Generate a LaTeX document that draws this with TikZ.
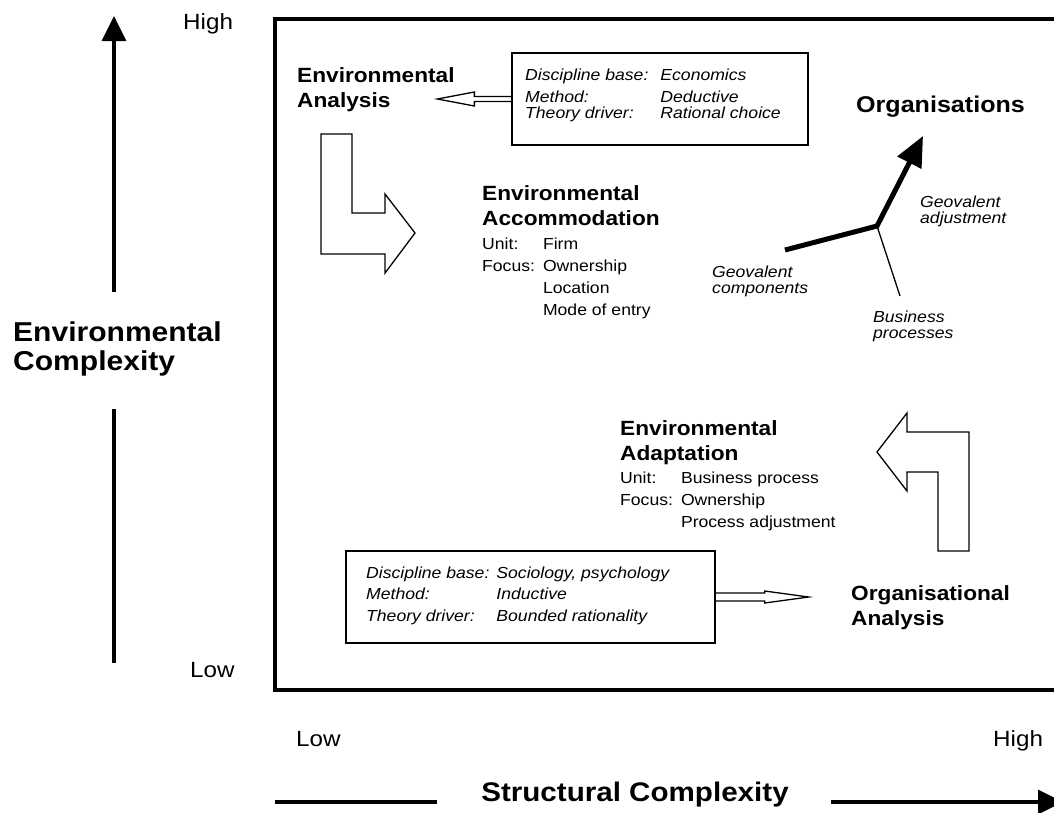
\documentclass[tikz,border=0pt]{standalone}
\usepackage{fontspec}
\setmainfont{Liberation Sans}[FakeStretch=1.1]
\usetikzlibrary{arrows.meta}

\newcommand{\linestack}[1]{\begin{tabular}[t]{@{}l@{}}#1\end{tabular}}

\tikzset{
  heading/.style={font=\fontsize{20.6}{25.5}\selectfont\bfseries, anchor=base west, inner sep=0pt},
  bodytext/.style={font=\fontsize{16}{22}\selectfont, anchor=base west, inner sep=0pt},
  boxtext/.style={font=\itshape, anchor=base west, inner sep=0pt},
  smalllabel/.style={font=\fontsize{16}{16}\selectfont\itshape, anchor=base west, inner sep=0pt},
  axistext/.style={font=\fontsize{22}{26}\selectfont, anchor=base west, inner sep=0pt},
  infobox/.style={draw, line width=1.3pt, inner sep=0pt},
  hollow/.style={draw, line width=1.3pt, line join=miter},
  axis/.style={line width=3.3pt},
}

\begin{document}
\begin{tikzpicture}[x=1pt, y=-1pt]
\useasboundingbox (0,0) rectangle (1054,812);
\clip (0,0) rectangle (1054,812);

% Outer frame
\draw[axis] (275,19) rectangle (1090,690);

% Vertical axis
\coordinate (ybot) at (114,663);
\coordinate (ygapl) at (114,409);
\coordinate (ygapu) at (114,292);
\coordinate (ytop) at (114,16);
\draw[axis] (ybot) -- (ygapl);
\draw[axis, -{Triangle[length=25pt,width=24pt]}] (ygapu) -- (ytop);
\node[axistext] (yhigh) at (183,29) {High};
\node[axistext] (ylow) at (190,677) {Low};
\node[font=\fontsize{27.3}{29}\selectfont\bfseries, anchor=base west, inner sep=0pt] (ylabel) at (13,341) {\linestack{Environmental\\Complexity}};

% Horizontal axis
\coordinate (xleft) at (275,802);
\coordinate (xgapl) at (437,802);
\coordinate (xgapr) at (831,802);
\coordinate (xright) at (1063,802);
\draw[axis] (xleft) -- (xgapl);
\draw[axis, -{Triangle[length=25pt,width=24pt]}] (xgapr) -- (xright);
\node[axistext] (xlow) at (296,746) {Low};
\node[axistext] (xhigh) at (993,746) {High};
\node[font=\fontsize{26.9}{30}\selectfont\bfseries, anchor=base, inner sep=0pt] (xlabel) at (635,801) {Structural Complexity};

% Economics box
\node[infobox, minimum width=296pt, minimum height=92pt] (econbox) at (660,99) {};
\node[boxtext] (econtext) at (525,80) {\fontsize{16}{22}\selectfont
  \begin{tabular}[t]{@{}l@{\hspace{12pt}}l@{}}
  Discipline base: & Economics\\
  Method: & Deductive\\[-6pt]
  Theory driver: & Rational choice
  \end{tabular}};
\draw[hollow] (econbox.west) ++(0,-2.5) -- ++(-37,0) -- ++(0,-4.5) -- ++(-37,7) -- ++(37,7) -- ++(0,-4.5) -- ++(37,0);

\node[heading] (envanalysis) at (297,82) {\linestack{Environmental\\Analysis}};

% Down and right arrow
\draw[hollow] (321,134) -- (352,134) -- (352,213) -- (385,213) -- (385,194) -- (415,233) -- (385,273) -- (385,254) -- (321,254) -- cycle;

\node[heading] (accomhead) at (482,200) {\linestack{Environmental\\Accommodation}};
\node[bodytext] (accombody) at (482,249) {%
  \begin{tabular}[t]{@{}l@{\hspace{8pt}}l@{}}
  Unit: & Firm\\
  Focus: & Ownership\\
  & Location\\
  & Mode of entry
  \end{tabular}};

% Organisations
\node[font=\fontsize{22.8}{26}\selectfont\bfseries, anchor=base west, inner sep=0pt] (orgs) at (856,112) {Organisations};
\coordinate (gjunc) at (877,226);
\coordinate (gcomp) at (785,250);
\coordinate (gtip) at (923,136);
\coordinate (gproc) at (900,296);
\draw[line width=5pt, -{Triangle[length=30pt,width=26pt]}] (gcomp) -- (gjunc) -- (gtip);
\draw[line width=1.3pt] (gjunc) -- (gproc);
\node[smalllabel] (gadjust) at (920,207) {\linestack{Geovalent\\adjustment}};
\node[smalllabel] (gcomplabel) at (712,277) {\linestack{Geovalent\\components}};
\node[smalllabel] (gproclabel) at (873,322) {\linestack{Business\\processes}};

% Adaptation
\node[heading] (adapthead) at (620,435) {\linestack{Environmental\\Adaptation}};
\node[bodytext] (adaptbody) at (620,483) {%
  \begin{tabular}[t]{@{}l@{\hspace{8pt}}l@{}}
  Unit: & Business process\\
  Focus: & Ownership\\
  & Process adjustment
  \end{tabular}};

% Up and left arrow
\draw[hollow] (969,551) -- (938,551) -- (938,472) -- (907,472) -- (907,491) -- (877,452) -- (907,413) -- (907,432) -- (969,432) -- cycle;

% Sociology box
\node[infobox, minimum width=369pt, minimum height=92pt] (sociobox) at (530.5,597) {};
\node[boxtext] (sociotext) at (366,578) {\fontsize{16}{21.5}\selectfont
  \begin{tabular}[t]{@{}l@{\hspace{7pt}}l@{}}
  Discipline base: & Sociology, psychology\\
  Method: & Inductive\\
  Theory driver: & Bounded rationality
  \end{tabular}};
\draw[hollow] (sociobox.east) ++(0,-4) -- ++(49,0) -- ++(0,-2) -- ++(44,6) -- ++(-44,6) -- ++(0,-2) -- ++(-49,0);

\node[heading] (organalysis) at (851,600) {\linestack{Organisational\\Analysis}};
\end{tikzpicture}
\end{document}
